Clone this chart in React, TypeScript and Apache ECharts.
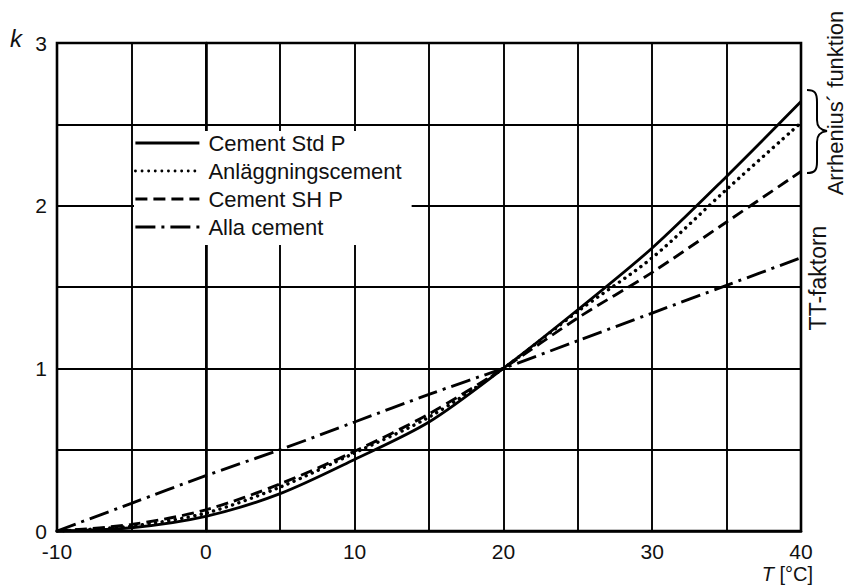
import React, { useEffect, useRef } from "react";
import * as echarts from "echarts";

const temps = [-10, -5, 0, 5, 10, 15, 20, 25, 30, 35, 40];
const cementStdP = [0, 0.02, 0.09, 0.23, 0.44, 0.67, 1.0, 1.36, 1.74, 2.18, 2.64];
const anlaggning = [0, 0.03, 0.11, 0.27, 0.48, 0.7, 1.0, 1.35, 1.68, 2.1, 2.51];
const cementSHP = [0, 0.04, 0.13, 0.29, 0.49, 0.72, 1.0, 1.31, 1.59, 1.9, 2.21];
const allaCement = [0, 0.17, 0.34, 0.5, 0.67, 0.84, 1.0, 1.17, 1.34, 1.51, 1.68];
const xTickLabels = [-10, 0, 10, 20, 30, 40];
const yTickLabels = [0, 1, 2, 3];
const seriesNames = ["Cement Std P", "Anläggningscement", "Cement SH P", "Alla cement"];

const FONT = "'Liberation Sans', Arial, sans-serif";

const braceD =
  "M 807 90 C 815 90 817 93 817 102 L 817 120 C 817 127 820 130 827 131 C 820 132 817 135 817 142 L 817 162 C 817 170 815 173 807 173";

export default function App() {
  const ref = useRef<HTMLDivElement>(null);
  useEffect(() => {
    if (!ref.current) return;
    echarts.graphic.registerShape("brace", echarts.graphic.extendPath(braceD, {}));
    const chart = echarts.init(ref.current, undefined, { renderer: "svg" });
    const pair = (vals: number[]) => temps.map((t, i) => [t, vals[i]]);
    const styles = [
      { type: "solid", width: 2.8, cap: "butt" },
      { type: [0.1, 6.5], width: 3.4, cap: "round" },
      { type: [12, 6], width: 2.9, cap: "butt" },
      { type: [20, 6, 3, 6], width: 2.9, cap: "butt" },
    ];
    const datas = [cementStdP, anlaggning, cementSHP, allaCement];
    chart.setOption({
      animation: false,
      backgroundColor: "#fff",
      textStyle: { fontFamily: FONT },
      grid: {
        left: 57,
        right: 52,
        top: 43,
        bottom: 55,
        show: true,
        borderColor: "#000",
        borderWidth: 2.6,
        containLabel: false,
        outerBoundsMode: "none",
      },
      legend: {
        orient: "vertical",
        left: 134,
        top: 131,
        padding: [0, 10, 6, 0],
        backgroundColor: "#fff",
        itemWidth: 64,
        itemHeight: 14,
        itemGap: 4,
        data: seriesNames,
        itemStyle: { opacity: 0 },
        lineStyle: { width: 2.8 },
        textStyle: { fontSize: 22, color: "#111", fontFamily: FONT, lineHeight: 24, padding: [0, 0, 0, 4] },
      },
      xAxis: {
        type: "value",
        min: -10,
        max: 40,
        interval: 5,
        axisLine: { show: true, lineStyle: { color: "#000", width: 2.6 } },
        axisTick: { show: false },
        axisLabel: {
          color: "#111",
          fontSize: 21,
          lineHeight: 20,
          margin: 10,
          fontFamily: FONT,
          formatter: (v: number) => (xTickLabels.includes(v) ? String(v) : ""),
        },
        splitLine: { show: true, lineStyle: { color: "#000", width: 1.9 } },
      },
      yAxis: {
        type: "value",
        min: 0,
        max: 3,
        interval: 0.5,
        axisLine: { show: true, lineStyle: { color: "#000", width: 2.6 } },
        axisTick: { show: false },
        axisLabel: {
          color: "#111",
          fontSize: 21,
          lineHeight: 18,
          margin: 10,
          fontFamily: FONT,
          formatter: (v: number) => (yTickLabels.includes(v) ? String(v) : ""),
        },
        splitLine: { show: true, lineStyle: { color: "#000", width: 1.9 } },
      },
      series: seriesNames.map((name, i) => ({
        name,
        type: "line",
        smooth: 0.3,
        symbol: "none",
        z: 3,
        data: pair(datas[i]),
        lineStyle: {
          color: "#000",
          type: styles[i].type,
          width: styles[i].width,
          cap: styles[i].cap,
        },
        itemStyle: { color: "#000" },
      })),
      graphic: [
        {
          type: "text",
          left: 10,
          top: 26,
          style: { text: "k", fontSize: 24, fontStyle: "italic", fill: "#111", fontFamily: FONT },
        },
        {
          type: "text",
          right: 40,
          top: 563,
          style: {
            text: "{i|T} [°C]",
            fill: "#111",
            fontSize: 20,
            lineHeight: 21,
            fontFamily: FONT,
            rich: { i: { fontStyle: "italic", fontSize: 20, lineHeight: 21, fontFamily: FONT, fill: "#111" } },
          },
        },
        {
          type: "text",
          x: 835,
          y: 103,
          rotation: Math.PI / 2,
          style: {
            text: "Arrhenius´ funktion",
            fontSize: 22,
            fill: "#111",
            fontFamily: FONT,
            align: "center",
            verticalAlign: "middle",
          },
        },
        {
          type: "text",
          x: 818,
          y: 278,
          rotation: Math.PI / 2,
          style: {
            text: "TT-faktorn",
            fontSize: 23,
            fill: "#111",
            fontFamily: FONT,
            align: "center",
            verticalAlign: "middle",
          },
        },
        {
          type: "brace",
          x: 0,
          y: 0,
          style: { fill: "none", stroke: "#000", lineWidth: 2 },
        },
      ],
    });
    return () => chart.dispose();
  }, []);
  return (
    <div
      ref={ref}
      style={{ position: "fixed", left: 0, top: 0, width: 853, height: 586, background: "#fff" }}
    />
  );
}
